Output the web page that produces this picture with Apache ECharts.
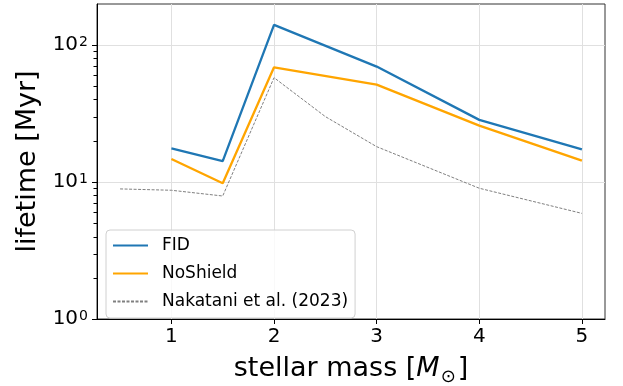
<!DOCTYPE html>
<html>
<head>
<meta charset="utf-8">
<script src="https://cdn.jsdelivr.net/npm/echarts@6/dist/echarts.min.js"></script>
<style>
  html, body { margin: 0; padding: 0; background: #fff; }
  #chart { width: 623px; height: 386px; }
</style>
</head>
<body>
<div id="chart"></div>
<script>
// Disk lifetime vs. stellar mass
const massFID = [1, 1.5, 2, 3, 4, 5];
const lifetimeFID = [17.6, 14.2, 140, 69.5, 28.4, 17.3];

const massNoShield = [1, 1.5, 2, 3, 4, 5];
const lifetimeNoShield = [14.7, 9.8, 68.7, 51.3, 25.8, 14.3];

const massNakatani = [0.5, 1, 1.5, 2, 2.5, 3, 4, 5];
const lifetimeNakatani = [8.9, 8.7, 7.9, 57.7, 30.0, 18.1, 9.0, 5.9];

const xTicks = [1, 2, 3, 4, 5];
const yTicks = [1, 10, 100];
const yMinorTicks = [2, 3, 4, 5, 6, 7, 8, 9, 20, 30, 40, 50, 60, 70, 80, 90];

const xMin = 0.275, xMax = 5.225;
const yMin = 1, yMax = 199;

const FONT = 'DejaVu Sans';

function pairs(xs, ys) { return xs.map((x, i) => [x, ys[i]]); }

const chart = echarts.init(document.getElementById('chart'), null, { renderer: 'canvas' });

chart.setOption({
  animation: false,
  backgroundColor: '#fff',
  grid: {
    left: 97, right: 18, top: 4, bottom: 67,
    outerBoundsMode: 'none', containLabel: false,
    show: true, borderColor: '#333', borderWidth: 1, backgroundColor: 'transparent'
  },
  xAxis: {
    type: 'value', min: xMin, max: xMax,
    name: '{n|stellar mass [}{i|M}{sub|⊙}{n|]}',
    nameLocation: 'middle', nameGap: 36,
    nameTextStyle: {
      rich: {
        n: { fontFamily: FONT, fontSize: 27, color: '#000', verticalAlign: 'middle' },
        i: { fontFamily: FONT, fontSize: 27, fontStyle: 'italic', color: '#000', verticalAlign: 'middle', padding: [0, 1, 0, 0] },
        sub: { fontFamily: FONT, fontSize: 18, color: '#000', verticalAlign: 'bottom', padding: [0, 2, -4, 0] }
      }
    },
    axisLine: { show: true, onZero: false, lineStyle: { color: '#000', width: 1 } },
    axisTick: { show: true, customValues: xTicks, length: 5, inside: false, lineStyle: { color: '#000', width: 1 } },
    axisLabel: { customValues: xTicks, fontFamily: FONT, fontSize: 20, color: '#000', margin: 8 },
    splitLine: { show: true, lineStyle: { color: '#e0e0e0', width: 1 } }
  },
  yAxis: {
    type: 'log', logBase: 10, min: yMin, max: yMax,
    name: 'lifetime [Myr]',
    nameLocation: 'middle', nameGap: 55,
    nameTextStyle: { fontFamily: FONT, fontSize: 27, color: '#000' },
    axisLine: { show: true, onZero: false, lineStyle: { color: '#000', width: 1 } },
    axisTick: { show: true, customValues: yTicks, length: 5, lineStyle: { color: '#000', width: 1 } },
    axisLabel: {
      customValues: yTicks,
      margin: 9,
      formatter: function (v) {
        const e = Math.round(Math.log10(v));
        return '{b|10}{s|' + e + '}';
      },
      rich: {
        b: { fontFamily: FONT, fontSize: 20, color: '#000', verticalAlign: 'bottom' },
        s: { fontFamily: FONT, fontSize: 14, color: '#000', verticalAlign: 'top', padding: [0, 0, 0, 1] }
      }
    },
    splitLine: { show: true, lineStyle: { color: '#e0e0e0', width: 1 } },
    minorTick: { show: false }
  },
  legend: {
    orient: 'vertical',
    left: 106, top: 230,
    padding: [7, 7, 8, 6],
    itemWidth: 35, itemHeight: 14, itemGap: 11,
    backgroundColor: 'rgba(255,255,255,0.8)',
    borderColor: '#d0d0d0', borderWidth: 1, borderRadius: 4,
    itemStyle: { color: 'transparent', borderColor: 'transparent', borderWidth: 0, opacity: 0 },
    textStyle: { fontFamily: FONT, fontSize: 17, lineHeight: 14, color: '#000', padding: [0, 0, 0, 9] },
    data: ['FID', 'NoShield', 'Nakatani et al. (2023)']
  },
  series: [
    {
      name: 'FID', type: 'line', symbol: 'none',
      data: pairs(massFID, lifetimeFID),
      lineStyle: { color: '#1f77b4', width: 2.3 }, itemStyle: { color: '#1f77b4' }, z: 4
    },
    {
      name: 'NoShield', type: 'line', symbol: 'none',
      data: pairs(massNoShield, lifetimeNoShield),
      lineStyle: { color: '#ffa500', width: 2.3 }, itemStyle: { color: '#ffa500' }, z: 3
    },
    {
      name: 'Nakatani et al. (2023)', type: 'line', symbol: 'none',
      data: pairs(massNakatani, lifetimeNakatani),
      lineStyle: { color: '#808080', width: 1, type: [3, 1.5] }, itemStyle: { color: '#808080' }, z: 2
    },
    {
      // minor ticks of the log scale, positioned through the axis coordinates
      type: 'custom', silent: true, clip: false, coordinateSystem: 'cartesian2d',
      data: yMinorTicks.map(v => [xMin, v]),
      renderItem: function (params, api) {
        const p = api.coord([xMin, api.value(1)]);
        const y = Math.round(p[1]) + 0.5;
        return {
          type: 'line',
          z2: 100,
          shape: { x1: p[0] - 3.5, y1: y, x2: p[0], y2: y },
          style: { stroke: '#000', lineWidth: 1 }
        };
      },
      z: 10
    }
  ]
});
</script>
</body>
</html>
